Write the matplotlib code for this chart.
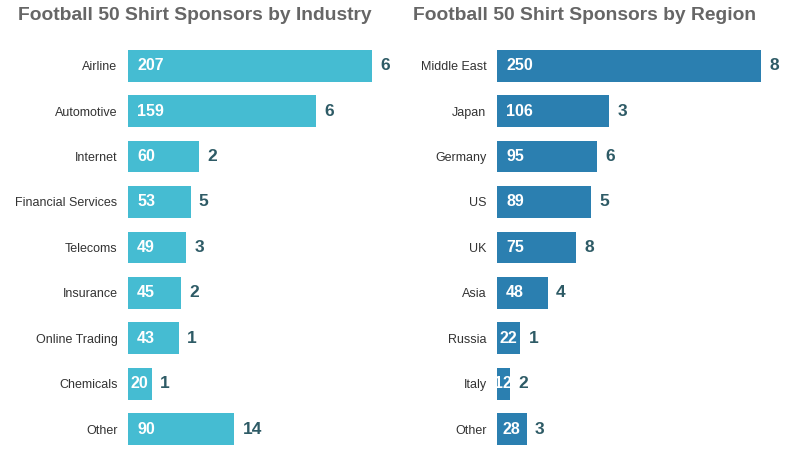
import matplotlib
matplotlib.use("Agg")
import matplotlib.pyplot as plt

plt.rcParams['font.family'] = ['Liberation Sans', 'DejaVu Sans']

industries = ['Airline', 'Automotive', 'Internet', 'Financial Services', 'Telecoms',
              'Insurance', 'Online Trading', 'Chemicals', 'Other']
industry_value = [207, 159, 60, 53, 49, 45, 43, 20, 90]
industry_count = [6, 6, 2, 5, 3, 2, 1, 1, 14]

regions = ['Middle East', 'Japan', 'Germany', 'US', 'UK', 'Asia', 'Russia', 'Italy', 'Other']
region_value = [250, 106, 95, 89, 75, 48, 22, 12, 28]
region_count = [8, 3, 6, 5, 8, 4, 1, 2, 3]

W, H = 800, 450
fig = plt.figure(figsize=(8, 4.5), dpi=100)


def panel(left_px, px_per_unit, xmax, cats, vals, counts, color, title, title_x):
    width_px = xmax * px_per_unit
    ax = fig.add_axes([left_px / W, 0, width_px / W, 1 - 43 / H])
    y = range(len(cats))
    ax.barh(y, vals, height=0.7, color=color)
    ax.set_xlim(0, xmax)
    ax.set_ylim(8.46, -0.5)
    ax.set_yticks(list(y))
    ax.set_yticklabels(cats, fontsize=9, color='#333333')
    ax.tick_params(axis='y', length=0, pad=7.5)
    ax.set_xticks([])
    for s in ax.spines.values():
        s.set_visible(False)
    for i, (v, c) in enumerate(zip(vals, counts)):
        bw = v * px_per_unit
        if bw < 40:
            ax.text(v / 2, i, str(v), ha='center', va='center', color='white',
                    fontsize=11.5, fontweight='bold')
        else:
            ax.annotate(str(v), (0, i), xytext=(6.5, 0), textcoords='offset points',
                        ha='left', va='center', color='white', fontsize=11.5, fontweight='bold')
        ax.annotate(str(c), (v, i), xytext=(6, 0), textcoords='offset points',
                    ha='left', va='center', color='#2e5b66', fontsize=12.5, fontweight='bold')
    fig.text(title_x / W, 1 - 15 / H, title, ha='left', va='center', fontsize=13.9,
             fontweight='bold', color='#666666')
    return ax


panel(128, 1.18, 230, industries, industry_value, industry_count, '#45bcd2',
      'Football 50 Shirt Sponsors by Industry', 18)
panel(497, 1.056, 270, regions, region_value, region_count, '#2b7fb0',
      'Football 50 Shirt Sponsors by Region', 413)

fig.savefig('out.png', dpi=100)
